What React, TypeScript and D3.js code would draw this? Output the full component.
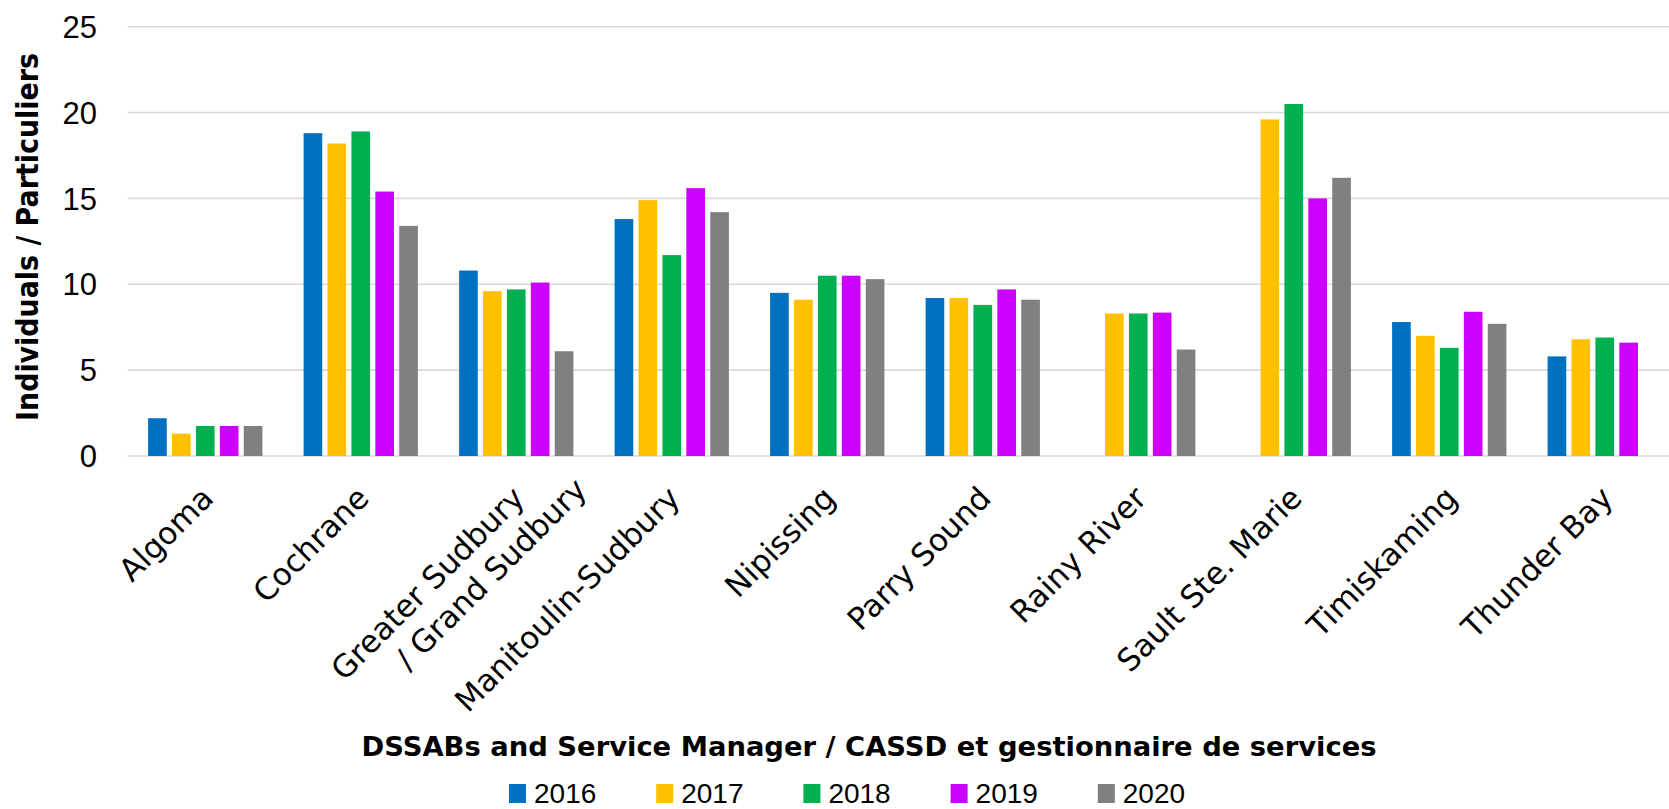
import * as d3 from "d3";
import { useEffect } from "react";

const categories = [
  "Algoma",
  "Cochrane",
  "Greater Sudbury\n/ Grand Sudbury",
  "Manitoulin-Sudbury",
  "Nipissing",
  "Parry Sound",
  "Rainy River",
  "Sault Ste. Marie",
  "Timiskaming",
  "Thunder Bay",
];

const years = ["2016", "2017", "2018", "2019", "2020"];
const colors = ["#0070C0", "#FFC000", "#00B050", "#CC00FF", "#808080"];

// null = no bar
const v2016 = [2.2, 18.8, 10.8, 13.8, 9.5, 9.2, null, null, 7.8, 5.8];
const v2017 = [1.3, 18.2, 9.6, 14.9, 9.1, 9.2, 8.3, 19.6, 7.0, 6.8];
const v2018 = [1.75, 18.9, 9.7, 11.7, 10.5, 8.8, 8.3, 20.5, 6.3, 6.9];
const v2019 = [1.75, 15.4, 10.1, 15.6, 10.5, 9.7, 8.35, 15.0, 8.4, 6.6];
const v2020 = [1.75, 13.4, 6.1, 14.2, 10.3, 9.1, 6.2, 16.2, 7.7, null];

const yTicks = [0, 5, 10, 15, 20, 25];

const series = [v2016, v2017, v2018, v2019, v2020];

const W = 1669;
const H = 809;
const left = 127.5;
const band = 155.5;
const y0 = 456;
const yTop = 26.7;

const App = () => {
  useEffect(() => {
    document.body.style.margin = "0";
  }, []);

  const x = d3
    .scaleBand<string>()
    .domain(categories)
    .range([left, left + band * categories.length]);

  const xInner = d3
    .scaleBand<string>()
    .domain(years)
    .range([20.6, band - 20.6])
    .paddingInner(0.22);

  const y = d3.scaleLinear().domain([0, 25]).range([y0, yTop]);

  const numFont = "'Liberation Sans', Arial, sans-serif";
  const txtFont = "'DejaVu Sans', sans-serif";

  return (
    <svg
      width={W}
      height={H}
      style={{ position: "absolute", left: 0, top: 0, background: "#fff" }}
    >
      {/* grid */}
      <g>
        {yTicks.map((t) => (
          <line
            key={t}
            x1={left}
            x2={W}
            y1={y(t)}
            y2={y(t)}
            stroke="#D9D9D9"
            strokeWidth={1.6}
          />
        ))}
      </g>
      <g fontFamily={numFont} fontSize={31} fill="#000">
        {yTicks.map((t) => (
          <text key={t} x={97} y={y(t)} dy="0.36em" textAnchor="end">
            {t}
          </text>
        ))}
      </g>

      {/* bars */}
      {series.map((vals, si) => (
        <g key={years[si]} fill={colors[si]}>
          {vals.map((v, ci) =>
            v == null ? null : (
              <rect
                key={ci}
                x={(x(categories[ci]) ?? 0) + (xInner(years[si]) ?? 0)}
                y={y(v)}
                width={xInner.bandwidth()}
                height={y0 - y(v)}
              />
            )
          )}
        </g>
      ))}

      {/* category labels */}
      <g fontFamily={txtFont} fontSize={31} fill="#000">
        {categories.map((c) => {
          const cx = (x(c) ?? 0) + band / 2;
          const lines = c.split("\n");
          return (
            <text
              key={c}
              transform={`translate(${cx + 10},${500}) rotate(-45)`}
              textAnchor="end"
            >
              {lines.map((l, i) => (
                <tspan key={i} x={i * 50} y={i * 38}>
                  {l}
                </tspan>
              ))}
            </text>
          );
        })}
      </g>

      {/* axis titles */}
      <text
        x={869}
        y={756}
        textAnchor="middle"
        fontFamily={txtFont}
        fontWeight="bold"
        fontSize={26}
        textLength={1015}
        lengthAdjust="spacingAndGlyphs"
      >
        DSSABs and Service Manager / CASSD et gestionnaire de services
      </text>
      <text
        transform={`translate(38,237) rotate(-90)`}
        textAnchor="middle"
        fontFamily={txtFont}
        fontWeight="bold"
        fontSize={30}
        textLength={368}
        lengthAdjust="spacingAndGlyphs"
      >
        Individuals / Particuliers
      </text>

      {/* legend */}
      <g fontFamily={numFont} fontSize={28}>
        {years.map((yr, i) => {
          const lx = 509 + i * 147.2;
          return (
            <g key={yr}>
              <rect x={lx} y={784} width={17} height={19} fill={colors[i]} />
              <text x={lx + 25} y={803}>
                {yr}
              </text>
            </g>
          );
        })}
      </g>
    </svg>
  );
};

export default App;
